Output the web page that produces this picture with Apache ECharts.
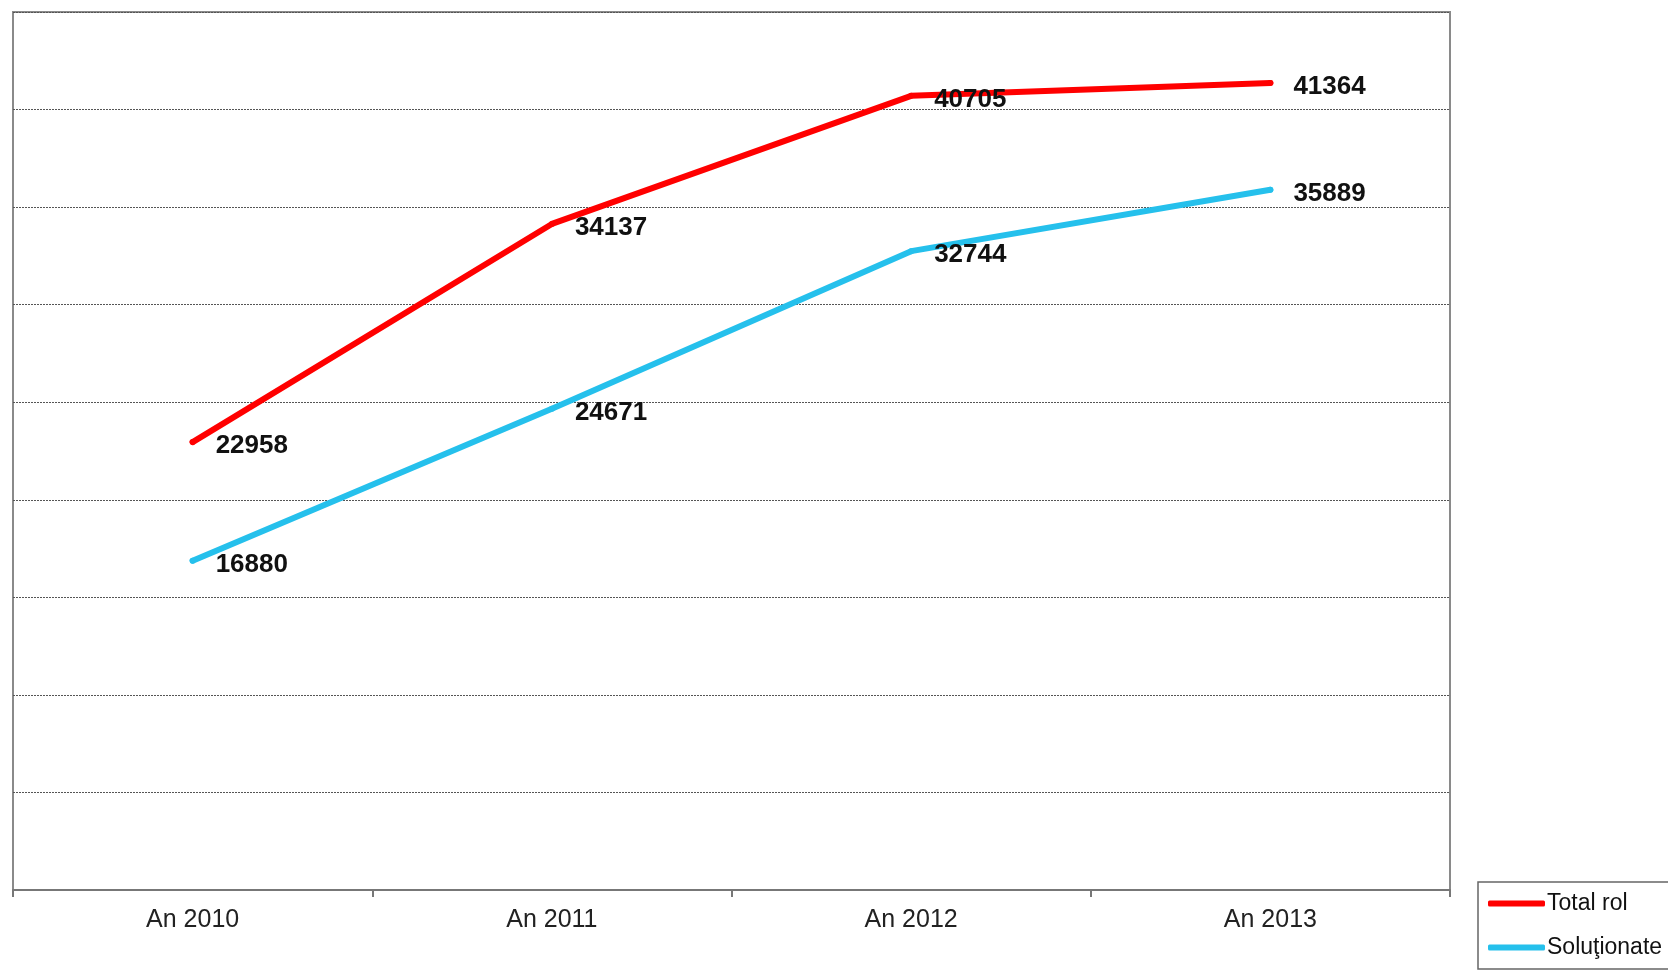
<!DOCTYPE html>
<html>
<head>
<meta charset="utf-8">
<script src="https://cdn.jsdelivr.net/npm/echarts@6/dist/echarts.min.js"></script>
<style>
  html, body { margin: 0; padding: 0; background: #fff; }
  #chart { width: 1668px; height: 974px; }
</style>
</head>
<body>
<div id="chart"></div>
<script>
const categories = ['An 2010', 'An 2011', 'An 2012', 'An 2013']
const totalRol = [22958, 34137, 40705, 41364]
const solutionate = [16880, 24671, 32744, 35889]

const FONT = '"Liberation Sans", Arial, sans-serif'

function lineSeries(name, data, color) {
  return {
    name,
    type: 'line',
    data,
    symbol: 'circle',
    symbolSize: 6,
    itemStyle: { color },
    lineStyle: { color, width: 6, cap: 'round', join: 'round' },
    label: {
      show: true,
      position: 'right',
      distance: 20,
      offset: [0, 4],
      color: '#111',
      fontFamily: FONT,
      fontWeight: 'bold',
      fontSize: 26
    },
    emphasis: { disabled: true }
  }
}

const chart = echarts.init(document.getElementById('chart'))
chart.setOption({
  animation: false,
  backgroundColor: '#fff',
  grid: {
    left: 13,
    top: 12,
    right: 218,
    bottom: 84,
    show: true,
    borderColor: '#8a8a8a',
    borderWidth: 2,
    containLabel: false
  },
  legend: {
    orient: 'vertical',
    left: 1478,
    top: 882,
    padding: [10, 10, 10, 10],
    itemGap: 21,
    itemWidth: 57,
    itemHeight: 6,
    icon: 'roundRect',
    borderColor: '#666',
    borderWidth: 1.5,
    textStyle: { fontFamily: FONT, fontSize: 23, color: '#111', padding: [0, 0, 0, -3] },
    data: ['Total rol', 'Soluţionate']
  },
  xAxis: {
    type: 'category',
    data: categories,
    boundaryGap: true,
    axisLine: { lineStyle: { color: '#777', width: 2 } },
    axisTick: { show: true, length: 7, lineStyle: { color: '#777', width: 2 } },
    axisLabel: { fontFamily: FONT, fontSize: 25, color: '#222', margin: 18 }
  },
  yAxis: {
    type: 'value',
    min: 0,
    max: 45000,
    interval: 5000,
    axisLabel: { show: false },
    axisLine: { show: false },
    axisTick: { show: false },
    splitLine: { lineStyle: { color: '#555', width: 1, type: [2, 1] } }
  },
  series: [
    lineSeries('Total rol', totalRol, '#ff0000'),
    lineSeries('Soluţionate', solutionate, '#25c0ec')
  ]
})
</script>
</body>
</html>
